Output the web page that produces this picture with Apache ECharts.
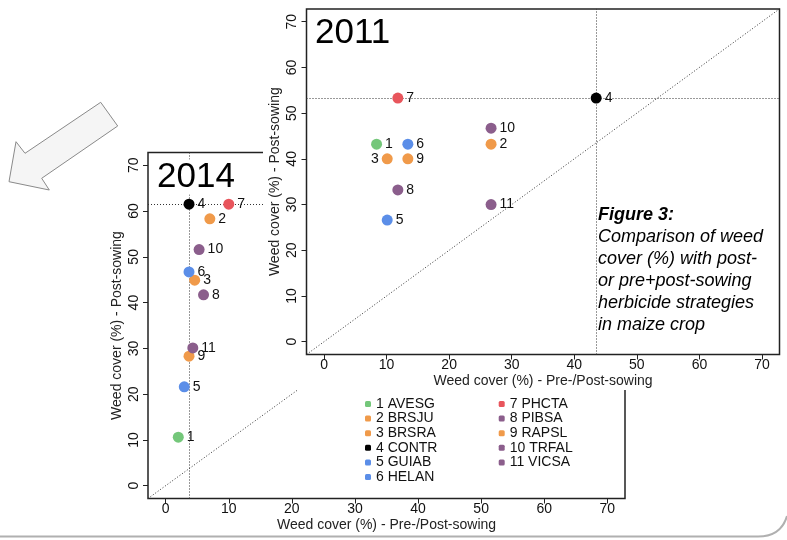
<!DOCTYPE html>
<html><head><meta charset="utf-8">
<script src="https://cdn.jsdelivr.net/npm/echarts@6/dist/echarts.min.js"></script>
<style>html,body{margin:0;padding:0;background:#fff}#c{width:787px;height:540px}</style>
</head><body><div id="c"></div>
<script>
// ---- data ----
const species = ['1 AVESG','2 BRSJU','3 BRSRA','4 CONTR','5 GUIAB','6 HELAN','7 PHCTA','8 PIBSA','9 RAPSL','10 TRFAL','11 VICSA'];
const pointLabels = ['1','2','3','4','5','6','7','8','9','10','11'];
const x2011 = [8.4, 26.7, 10.1, 43.5, 10.1, 13.4, 11.8, 11.8, 13.4, 26.7, 26.7];
const y2011 = [43.2, 43.2, 40.0, 53.3, 26.6, 43.2, 53.3, 33.2, 40.0, 46.7, 30.0];
const x2014 = [2.0, 7.0, 4.6, 3.7, 2.95, 3.7, 10.0, 6.0, 3.7, 5.3, 4.3];
const y2014 = [10.6, 58.3, 44.9, 61.5, 21.6, 46.7, 61.5, 41.7, 28.3, 51.6, 30.1];
const tickMin = 0, tickMax = 70, tickStep = 10;
const yearLabels = ['2014', '2011'];
const xTitle = 'Weed cover (%) - Pre-/Post-sowing';
const yTitle = 'Weed cover (%) - Post-sowing';
const captionTitle = 'Figure 3:';
const captionLines = ['Comparison of weed', 'cover (%) with post-', 'or pre+post-sowing', 'herbicide strategies', 'in maize crop'];
const controlIndex = 3;

// ---- styles / layout ----
const FONT = '"Liberation Sans", Arial, Helvetica, sans-serif';
const colorMap = {green:'#74c77a', orange:'#f09a4a', black:'#000000', blue:'#5b8ee8', red:'#e8555c', purple:'#8b5e8c'};
const colorKeys = ['green','orange','orange','black','blue','blue','red','purple','orange','purple','purple'];
const axisMin = -2.8, axisMax = 72.8;
const G14 = {left: 148, top: 152.5, width: 477, height: 346};
const G11 = {left: 306.5, top: 8.9, width: 473, height: 345.6};

const grids = [], xAxes = [], yAxes = [];
const hidden = {show: false};
const noLine = {show: false, onZero: false};

function addFrame(g, z) {
  const span = axisMax - axisMin;
  const innerW = g.width * (tickMax - tickMin) / span;
  const innerLeft = g.left + g.width * (tickMin - axisMin) / span;
  const innerH = g.height * (tickMax - tickMin) / span;
  const innerTop = g.top + g.height * (axisMax - tickMax) / span;
  const base = grids.length;
  // data grid (box)
  grids.push({left: g.left, top: g.top, width: g.width, height: g.height, show: true,
              borderColor: '#222', borderWidth: 1.5, backgroundColor: 'transparent', z: z});
  xAxes.push({type: 'value', gridIndex: base, min: axisMin, max: axisMax, show: false, axisLine: noLine});
  yAxes.push({type: 'value', gridIndex: base, min: axisMin, max: axisMax, show: false, axisLine: noLine});
  // x tick grid
  grids.push({left: innerLeft, top: g.top, width: innerW, height: g.height, show: false, z: z});
  xAxes.push({type: 'value', gridIndex: base + 1, min: tickMin, max: tickMax, interval: tickStep, z: z,
    splitLine: hidden, axisLine: noLine,
    axisTick: {show: true, inside: false, length: 5, lineStyle: {color: '#222', width: 1}},
    axisLabel: {fontSize: 14, color: '#111', fontFamily: FONT, margin: 4},
    name: xTitle, nameLocation: 'middle', nameGap: 20, nameMoveOverlap: false,
    nameTextStyle: {fontSize: 14, color: '#222', fontFamily: FONT}});
  yAxes.push({type: 'value', gridIndex: base + 1, min: axisMin, max: axisMax, show: false, axisLine: noLine});
  // y tick grid
  grids.push({left: g.left, top: innerTop, width: g.width, height: innerH, show: false, z: z});
  xAxes.push({type: 'value', gridIndex: base + 2, min: axisMin, max: axisMax, show: false, axisLine: noLine});
  yAxes.push({type: 'value', gridIndex: base + 2, min: tickMin, max: tickMax, interval: tickStep, z: z,
    splitLine: hidden, axisLine: noLine,
    axisTick: {show: true, inside: false, length: 5, lineStyle: {color: '#222', width: 1}},
    axisLabel: {fontSize: 14, color: '#111', fontFamily: FONT, margin: 7, rotate: 90},
    name: yTitle, nameLocation: 'middle', nameGap: 24, nameMoveOverlap: false,
    nameTextStyle: {fontSize: 14, color: '#222', fontFamily: FONT}});
  return base;
}
const ax14 = addFrame(G14, 0);
const ax11 = addFrame(G11, 11);

const series = [];
function addChart(xs, ys, axisIdx, z, leftLabelIdx) {
  for (let i = 0; i < species.length; i++) {
    const s = {
      name: species[i], type: 'scatter', xAxisIndex: axisIdx, yAxisIndex: axisIdx, z: z + 1,
      data: [[xs[i], ys[i]]], symbolSize: 11,
      itemStyle: {color: colorMap[colorKeys[i]], opacity: 1},
      label: {show: true, position: i === leftLabelIdx ? 'left' : 'right', distance: 3,
              formatter: pointLabels[i], fontSize: 14, color: '#111', fontFamily: FONT},
      emphasis: {disabled: true}
    };
    if (i === controlIndex) {
      s.markLine = {
        silent: true, symbol: 'none', z: z, label: {show: false},
        lineStyle: {type: [1, 2], color: '#333', width: 1},
        emphasis: {disabled: true},
        data: [
          {xAxis: xs[i]},
          {yAxis: ys[i]},
          [{coord: [axisMin, axisMin]}, {coord: [axisMax, axisMax]}]
        ]
      };
    }
    series.push(s);
  }
}
addChart(x2014, y2014, ax14, 2, -1);
addChart(x2011, y2011, ax11, 12, 2);

const legendCommon = {orient: 'vertical', itemWidth: 6, itemHeight: 6, icon: 'roundRect', itemGap: 0.6,
  selectedMode: false, textStyle: {fontSize: 14, color: '#111', fontFamily: FONT}, padding: 0, z: 4};

const option = {
  animation: false,
  backgroundColor: '#fff',
  grid: grids,
  xAxis: xAxes,
  yAxis: yAxes,
  legend: [
    Object.assign({data: species.slice(0, 6), left: 365, top: 397}, legendCommon),
    Object.assign({data: species.slice(6), left: 498.7, top: 397}, legendCommon)
  ],
  title: [
    {text: yearLabels[0], left: 155, top: 161, padding: [0, 2], backgroundColor: '#fff', z: 3,
     textStyle: {fontSize: 35, fontWeight: 'normal', color: '#000', fontFamily: FONT, lineHeight: 32}},
    {text: yearLabels[1], left: 313, top: 17, padding: [0, 2], z: 13,
     textStyle: {fontSize: 35, fontWeight: 'normal', color: '#000', fontFamily: FONT, lineHeight: 32}}
  ],
  graphic: [
    {type: 'rect', z: 10, silent: true, shape: {x: 263, y: 0, width: 524, height: 390}, style: {fill: '#fff'}},
    {type: 'polygon', z: 1, silent: true,
     shape: {points: [[9, 181.7], [16, 141.7], [25, 153.3], [100.7, 102.3], [117.7, 126], [41.7, 178.3], [49.3, 190]]},
     style: {fill: '#f5f5f5', stroke: '#8a8a8a', lineWidth: 1}},
    {type: 'line', z: 1, silent: true, shape: {x1: 0, y1: 536.5, x2: 758, y2: 536.5},
     style: {stroke: '#b0b0b0', lineWidth: 2}},
    {type: 'bezierCurve', z: 1, silent: true, shape: {x1: 758, y1: 536.5, cpx1: 781, cpy1: 536.5, x2: 787, y2: 516},
     style: {fill: 'none', stroke: '#b0b0b0', lineWidth: 2}},
    {type: 'text', z: 14, silent: true, x: 598, y: 204,
     style: {
       text: '{b|' + captionTitle + '}\n' + captionLines.map(function (l) { return '{i|' + l + '}'; }).join('\n'),
       rich: {
         b: {fontSize: 18, fontWeight: 'bold', fontStyle: 'italic', lineHeight: 22, fontFamily: FONT, fill: '#000'},
         i: {fontSize: 18, fontStyle: 'italic', lineHeight: 22, fontFamily: FONT, fill: '#000'}
       }
     }}
  ],
  series: series
};

const chart = echarts.init(document.getElementById('c'), null, {renderer: 'canvas'});
chart.setOption(option);
</script>
</body></html>
